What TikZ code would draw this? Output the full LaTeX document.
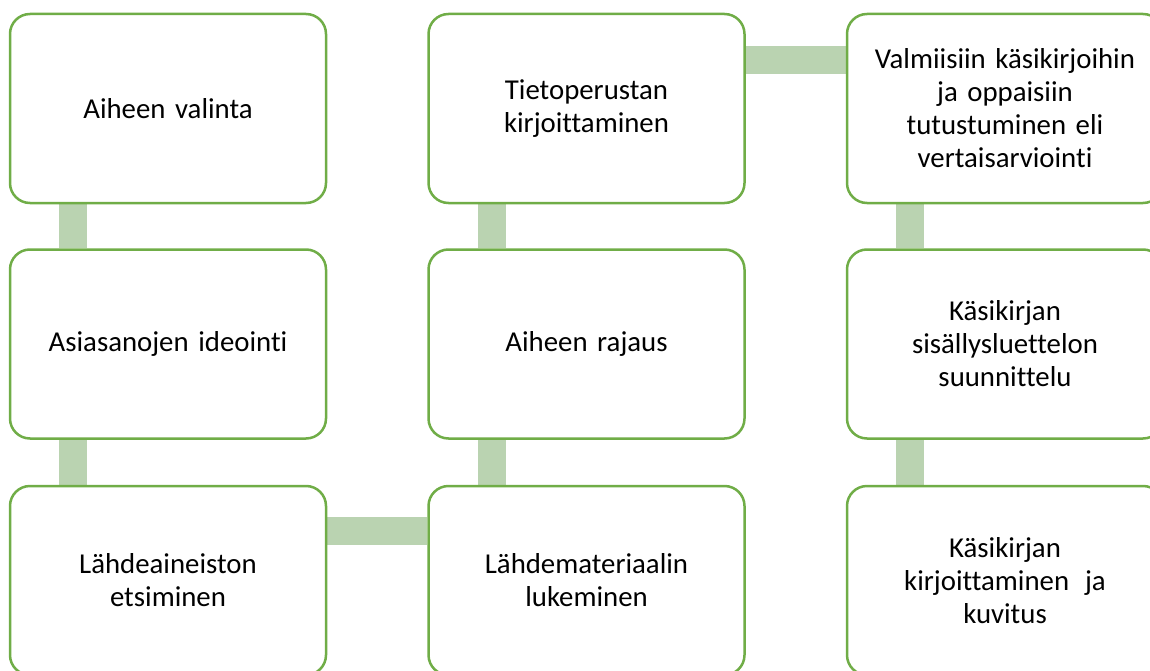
\documentclass[tikz,border=0pt]{standalone}
\usepackage{fontspec}
\setmainfont{Carlito}[Ligatures={NoCommon}]
\usetikzlibrary{backgrounds}
\definecolor{boxgreen}{RGB}{112,173,71}
\definecolor{barcol}{RGB}{186,211,177}
\tikzset{
  stepbox/.style={draw=boxgreen, fill=white, line width=2.5pt, rounded corners=20pt,
    minimum width=316pt, minimum height=189pt, inner sep=0pt, align=center,
    text width=306pt, font=\fontsize{28.8}{33}\selectfont},
  bar/.style={draw=barcol, line width=28pt}
}
\begin{document}
\begin{tikzpicture}[x=1pt,y=-1pt]
\useasboundingbox (0,0) rectangle (1150,671);
\node[stepbox] (a1) at (168,108.5) {Aiheen valinta};
\node[stepbox] (a2) at (168,344) {Asiasanojen ideointi};
\node[stepbox] (a3) at (168,580.5) {Lähdeaineiston\\etsiminen};
\node[stepbox] (b3) at (586.5,580.5) {Lähdemateriaalin\\lukeminen};
\node[stepbox] (b2) at (586.5,344) {Aiheen rajaus};
\node[stepbox] (b1) at (586.5,108.5) {Tietoperustan\\kirjoittaminen};
\node[stepbox] (c1) at (1005,108.5) {Valmiisiin käsikirjoihin\\ja oppaisiin\\tutustuminen eli\\vertaisarviointi};
\node[stepbox] (c2) at (1005,344) {Käsikirjan\\sisällysluettelon\\suunnittelu};
\node[stepbox] (c3) at (1005,580.5) {Käsikirjan\\kirjoittaminen\hspace{0.22em} ja\\kuvitus};
\begin{scope}[on background layer]
\draw[bar] ([xshift=64.5pt]a1.south west) -- ([xshift=64.5pt]a2.north west);
\draw[bar] ([xshift=64.5pt]a2.south west) -- ([xshift=64.5pt]a3.north west);
\draw[bar] ([yshift=-46pt]a3.north east) -- ([yshift=-46pt]b3.north west);
\draw[bar] ([xshift=64.5pt]b3.north west) -- ([xshift=64.5pt]b2.south west);
\draw[bar] ([xshift=64.5pt]b2.north west) -- ([xshift=64.5pt]b1.south west);
\draw[bar] ([yshift=-47.5pt]b1.north east) -- ([yshift=-47.5pt]c1.north west);
\draw[bar] ([xshift=64.5pt]c1.south west) -- ([xshift=64.5pt]c2.north west);
\draw[bar] ([xshift=64.5pt]c2.south west) -- ([xshift=64.5pt]c3.north west);
\end{scope}
\end{tikzpicture}
\end{document}
